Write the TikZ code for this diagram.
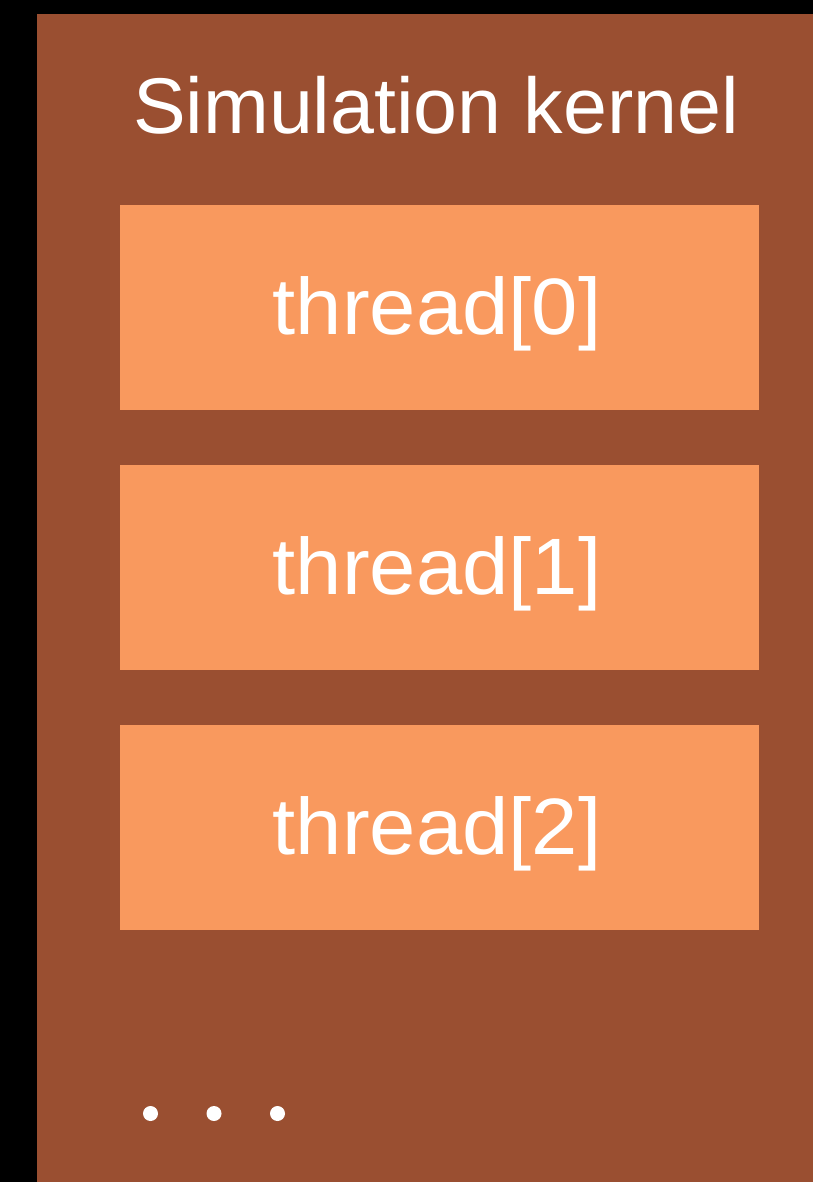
\documentclass[tikz,border=0pt]{standalone}
\usepackage{fontspec}
\setmainfont{Liberation Sans}
\newfontfamily\widesans[FakeStretch=1.04]{Liberation Sans}
\definecolor{kbrown}{HTML}{9A4F31}
\definecolor{korange}{HTML}{F9995E}
\begin{document}
\begin{tikzpicture}[x=1pt,y=-1pt,
  threadbox/.style={fill=korange, draw=none, minimum width=639pt, minimum height=205pt, inner sep=0pt, text=white, text height=58pt, text depth=5pt, font=\widesans\fontsize{80}{80}\selectfont},
  dotmark/.style={circle, fill=white, draw=none, minimum size=15pt, inner sep=0pt}]
\fill[black] (0,0) rectangle (813,1182);
\useasboundingbox (0,0) rectangle (813,1182);
\node[fill=kbrown, draw=none, minimum width=776pt, minimum height=1168pt, inner sep=0pt, anchor=north west] (kernel) at (37,14) {};
\node[text=white, font=\fontsize{79}{79}\selectfont, anchor=base] (title) at (436,134) {Simulation kernel};
\node[threadbox] (t0) at (439.5,307.5) {\hspace*{-5pt}thread[0]};
\node[threadbox] (t1) at (439.5,567.5) {\hspace*{-5pt}thread[1]};
\node[threadbox] (t2) at (439.5,827.5) {\hspace*{-5pt}thread[2]};
\node[dotmark] (d1) at (150.5,1113.5) {};
\node[dotmark] (d2) at (214,1113.5) {};
\node[dotmark] (d3) at (277.5,1113.5) {};
\end{tikzpicture}
\end{document}
